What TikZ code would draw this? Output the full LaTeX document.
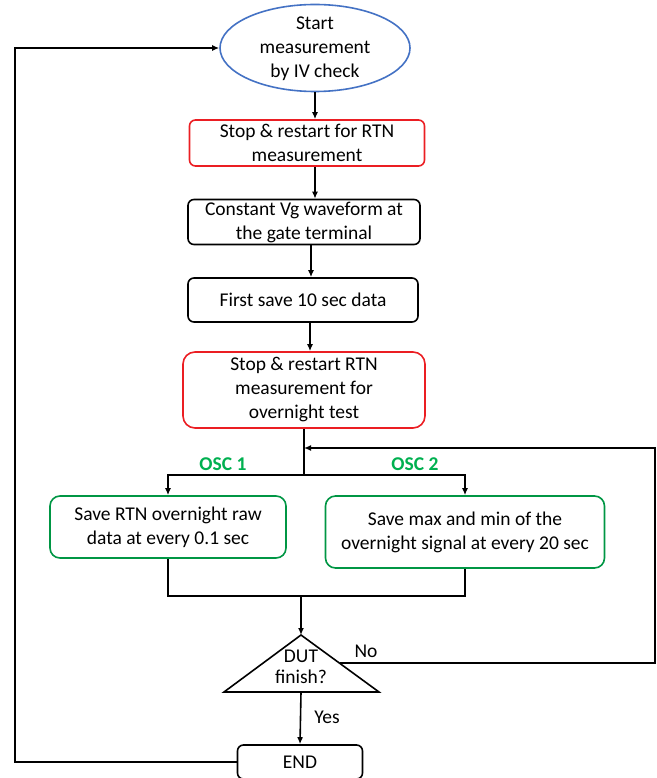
\documentclass[tikz,border=0pt]{standalone}
\usepackage{fontspec}
\setmainfont{Carlito}
\usetikzlibrary{shapes.geometric,arrows.meta}
\definecolor{startblue}{RGB}{68,114,196}
\definecolor{stopred}{RGB}{235,30,35}
\definecolor{oscgreen}{RGB}{0,176,80}

\begin{document}
\begin{tikzpicture}[x=1pt,y=-1pt,line width=1.6pt,
  every node/.style={font=\fontsize{19.5}{24}\selectfont},
  flow/.style={-{Latex[length=7pt,width=6pt]}},
  plain/.style={align=center,inner sep=0pt},
  stepbox/.style={draw,rounded corners=6pt,align=center,inner sep=0pt},
  redbox/.style={stepbox,draw=stopred},
  greenbox/.style={stepbox,draw=oscgreen!85!black,rounded corners=10pt},
  startoval/.style={draw=startblue,ellipse,inner sep=0pt,minimum width=190pt,minimum height=87pt},
  osclabel/.style={text=oscgreen,font=\fontsize{19.5}{24}\selectfont\bfseries,inner sep=0pt}]
\useasboundingbox (0,0) rectangle (656,778);

\node[startoval] (start) at (315,48) {};
\node[plain] (starttext) at (315,49) {Start\\measurement\\by IV check};
\node[redbox,minimum width=235pt,minimum height=46pt] (rtn) at (307,143) {Stop \& restart for RTN\\measurement};
\node[stepbox,minimum width=232pt,minimum height=45pt] (vg) at (304,222) {Constant Vg waveform at\\the gate terminal};
\node[stepbox,minimum width=230pt,minimum height=44pt] (first) at (303,300) {First save 10 sec data};
\node[redbox,rounded corners=12pt,minimum width=242pt,minimum height=76pt] (overnight) at (304,390) {Stop \& restart RTN\\measurement for\\overnight test};

\draw[flow] (start.south) -- (start.south |- rtn.north);
\draw[flow] (start.south |- rtn.south) -- (start.south |- vg.north);
\draw[flow] (vg.south -| 311,0) -- (first.north -| 311,0);
\draw[flow] (first.south -| 310,0) -- (overnight.north -| 310,0);

\node[osclabel] (osc1) at (223,464) {OSC 1};
\node[osclabel] (osc2) at (415,464) {OSC 2};
\node[greenbox,minimum width=236pt,minimum height=62pt] (raw) at (168,527) {Save RTN overnight raw\\data at every 0.1 sec};
\node[greenbox,minimum width=279pt,minimum height=72pt] (maxmin) at (465,532) {Save max and min of the\\overnight signal at every 20 sec};

\coordinate (split) at (304,475);
\coordinate (loopin) at (304,448);
\draw (overnight.south) -- (split);
\draw[flow] (split) -| (raw.north);
\draw[flow] (split) -| (maxmin.north);

\coordinate (merge) at (301,596);
\draw (raw.south) |- (merge) -| (maxmin.south);

\coordinate (apex) at (301,635);
\coordinate (baseleft) at (224,692);
\coordinate (baseright) at (379,692);
\coordinate (basemid) at (301,692);
\draw[line join=miter] (apex) -- (baseright) -- (baseleft) -- cycle;
\node[plain,font=\fontsize{19.5}{21}\selectfont] (dut) at (301,667) {DUT\\finish?};
\draw[flow] (merge) -- (apex);

\coordinate (nohit) at (340,663);
\coordinate (noturn) at (655,663);
\draw[flow] (nohit) -- (noturn) |- (loopin);
\node[plain] (no) at (366,651) {No};

\node[stepbox,minimum width=125pt,minimum height=34pt] (finish) at (300,762) {END};
\draw[flow] (basemid) -- (finish.north);
\node[plain] (yes) at (327,717) {Yes};

\coordinate (loopcorner) at (15,762);
\draw[flow] (finish.west) -- (loopcorner) |- (start.west);
\end{tikzpicture}
\end{document}
